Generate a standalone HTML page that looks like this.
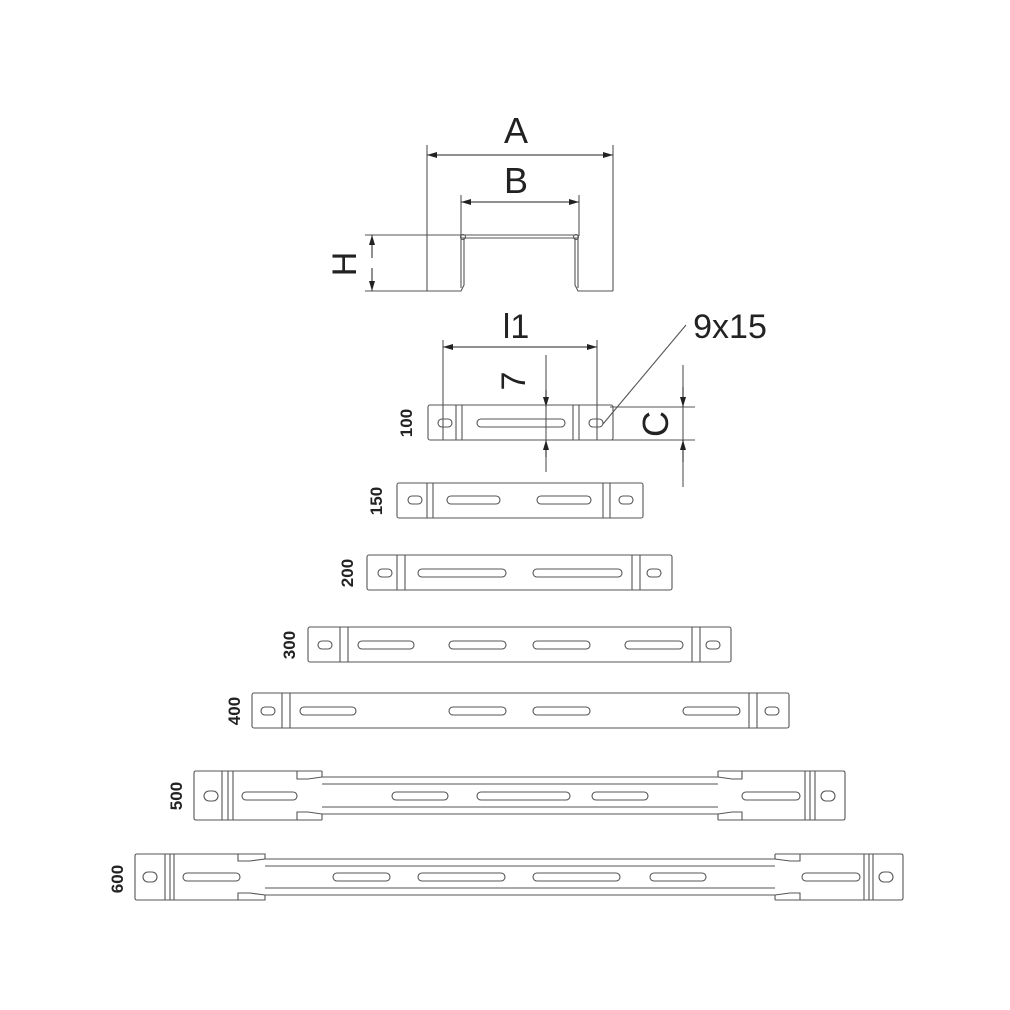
<!DOCTYPE html>
<html><head><meta charset="utf-8"><style>
html,body{margin:0;padding:0;background:#fff;}
svg{display:block;}
text{font-family:"Liberation Sans",sans-serif;fill:#222;}
</style></head><body>
<svg width="1010" height="1010" viewBox="0 0 1010 1010" xmlns="http://www.w3.org/2000/svg">
<defs>
<marker id="ar" viewBox="0 0 10 6" refX="10" refY="3" markerWidth="16" markerHeight="6" orient="auto" markerUnits="userSpaceOnUse"><path d="M0,0 L10,3 L0,6 z" fill="#222"/></marker>
</defs>
<g fill="none" stroke="#555" stroke-width="1.1">
<line x1="427" y1="145" x2="427" y2="291"/>
<line x1="613" y1="145" x2="613" y2="291"/>
<line x1="461" y1="195" x2="461" y2="236"/>
<line x1="579" y1="195" x2="579" y2="236"/>
<line x1="365" y1="235" x2="461" y2="235"/>
<line x1="365" y1="291" x2="427" y2="291"/>
<path d="M461,235 L578,235 M461,238 L578,238 M461,235 L461,288 M464,238 L464,285 L461,291 L427,291 M575,238 L575,285 L578,291 L613,291 M578,235 L578,288"/>
<circle cx="463" cy="237" r="2.5"/><circle cx="576" cy="237" r="2.5"/>
<line x1="443" y1="340" x2="443" y2="440"/>
<line x1="597" y1="340" x2="597" y2="440"/>
<line x1="546" y1="355" x2="546" y2="472"/>
<line x1="610" y1="407" x2="695" y2="407"/>
<line x1="610" y1="440" x2="695" y2="440"/>
<line x1="683" y1="365" x2="683" y2="487"/>
<line x1="686" y1="325" x2="603" y2="424"/>
</g>
<g stroke="#222" stroke-width="1" fill="none">
<line x1="450" y1="155" x2="427" y2="155" marker-end="url(#ar)"/>
<line x1="450" y1="155" x2="590" y2="155"/>
<line x1="590" y1="155" x2="613" y2="155" marker-end="url(#ar)"/>
<line x1="484" y1="202" x2="461" y2="202" marker-end="url(#ar)"/>
<line x1="484" y1="202" x2="556" y2="202"/>
<line x1="556" y1="202" x2="579" y2="202" marker-end="url(#ar)"/>
<line x1="372" y1="258" x2="372" y2="235" marker-end="url(#ar)"/>
<line x1="372" y1="268" x2="372" y2="291" marker-end="url(#ar)"/>
<line x1="466" y1="347" x2="443" y2="347" marker-end="url(#ar)"/>
<line x1="466" y1="347" x2="574" y2="347"/>
<line x1="574" y1="347" x2="597" y2="347" marker-end="url(#ar)"/>
<line x1="546" y1="390" x2="546" y2="407" marker-end="url(#ar)"/>
<line x1="546" y1="457" x2="546" y2="440" marker-end="url(#ar)"/>
<line x1="683" y1="387" x2="683" y2="407" marker-end="url(#ar)"/>
<line x1="683" y1="462" x2="683" y2="440" marker-end="url(#ar)"/>
</g>
<text x="516" y="143" font-size="36" text-anchor="middle">A</text>
<text x="516" y="193" font-size="36" text-anchor="middle">B</text>
<text x="0" y="0" font-size="34" text-anchor="middle" transform="translate(356,264) rotate(-90)">H</text>
<text x="516" y="338" font-size="34" text-anchor="middle">l1</text>
<text x="730" y="338" font-size="34" text-anchor="middle">9x15</text>
<text x="0" y="0" font-size="34" text-anchor="middle" transform="translate(525,381) rotate(-90)">7</text>
<text x="0" y="0" font-size="36" text-anchor="middle" transform="translate(668,424) rotate(-90)">C</text>
<g font-size="17" font-weight="bold" text-anchor="middle">
<text transform="translate(412,423) rotate(-90)">100</text>
<text transform="translate(382,501) rotate(-90)">150</text>
<text transform="translate(353,573) rotate(-90)">200</text>
<text transform="translate(295,645) rotate(-90)">300</text>
<text transform="translate(240,711) rotate(-90)">400</text>
<text transform="translate(182,796) rotate(-90)">500</text>
<text transform="translate(123,879) rotate(-90)">600</text>
</g>
<g fill="none" stroke="#555" stroke-width="1.1">
<rect x="428" y="405" width="185" height="35" rx="2"/>
<path d="M456,405V440M462,405V440M573,405V440M579,405V440"/>
<rect x="438" y="419" width="14" height="8" rx="4"/><rect x="589" y="419" width="14" height="8" rx="4"/>
<rect x="477" y="419" width="88" height="8" rx="4"/>
<rect x="397" y="483" width="246" height="35" rx="2"/>
<path d="M427,483V518M433,483V518M603,483V518M610,483V518"/>
<rect x="408" y="496" width="14" height="8" rx="4"/><rect x="619" y="496" width="14" height="8" rx="4"/>
<rect x="447" y="496" width="53" height="8" rx="4"/><rect x="537" y="496" width="54" height="8" rx="4"/>
<rect x="367" y="555" width="305" height="35" rx="2"/>
<path d="M397,555V590M405,555V590M632,555V590M640,555V590"/>
<rect x="378" y="569" width="14" height="8" rx="4"/><rect x="647" y="569" width="14" height="8" rx="4"/>
<rect x="418" y="569" width="88" height="8" rx="4"/><rect x="533" y="569" width="89" height="8" rx="4"/>
<rect x="308" y="627" width="423" height="35" rx="2"/>
<path d="M340,627V662M348,627V662M692,627V662M700,627V662"/>
<rect x="318" y="641" width="14" height="8" rx="4"/><rect x="706" y="641" width="14" height="8" rx="4"/>
<rect x="358" y="641" width="56" height="8" rx="4"/><rect x="449" y="641" width="57" height="8" rx="4"/><rect x="533" y="641" width="57" height="8" rx="4"/><rect x="625" y="641" width="58" height="8" rx="4"/>
<rect x="252" y="693" width="537" height="35" rx="2"/>
<path d="M282,693V728M290,693V728M749,693V728M757,693V728"/>
<rect x="261" y="707" width="14" height="8" rx="4"/><rect x="765" y="707" width="14" height="8" rx="4"/>
<rect x="300" y="707" width="56" height="8" rx="4"/><rect x="449" y="707" width="57" height="8" rx="4"/><rect x="533" y="707" width="57" height="8" rx="4"/><rect x="683" y="707" width="57" height="8" rx="4"/>
<!-- 500 -->
<path d="M297,771 L196,771 Q194,771 194,773 L194,818 Q194,820 196,820 L297,820 L297,812 L308,812 L322,814 L718,814 L732,812 L742,812 L742,820 L843,820 Q845,820 845,818 L845,773 Q845,771 843,771 L742,771 L742,779 L732,779 L718,777 L322,777 L308,779 L297,779 Z"/>
<path d="M322,771 L322,777 M718,771 L718,777 M322,814 L322,820 M718,814 L718,820 M297,771 L322,771 M718,771 L742,771 M297,820 L322,820 M718,820 L742,820"/>
<path d="M322,784 L718,784 M322,807 L718,807"/>
<path d="M222,771V820M228,771V820M233,771V820M805,771V820M810,771V820M815,771V820"/>
<rect x="204" y="791" width="14" height="10" rx="5"/><rect x="821" y="791" width="14" height="10" rx="5"/>
<rect x="242" y="792" width="55" height="8" rx="4"/><rect x="392" y="792" width="56" height="8" rx="4"/><rect x="477" y="792" width="93" height="8" rx="4"/><rect x="592" y="792" width="56" height="8" rx="4"/><rect x="742" y="792" width="58" height="8" rx="4"/>
<!-- 600 -->
<path d="M238,854 L137,854 Q135,854 135,856 L135,898 Q135,900 137,900 L238,900 L238,893 L250,893 L265,895 L775,895 L790,893 L800,893 L800,900 L901,900 Q903,900 903,898 L903,856 Q903,854 901,854 L800,854 L800,861 L790,861 L775,859 L265,859 L250,861 L238,861 Z"/>
<path d="M238,854 L265,854 L265,859 M775,854 L800,854 M775,854 L775,859 M238,900 L265,900 L265,895 M775,900 L800,900 M775,900 L775,895"/>
<path d="M265,866 L775,866 M265,888 L775,888"/>
<path d="M165,854V900M170,854V900M174,854V900M864,854V900M869,854V900M873,854V900"/>
<rect x="143" y="872" width="14" height="10" rx="5"/><rect x="879" y="872" width="14" height="10" rx="5"/>
<rect x="183" y="873" width="57" height="8" rx="4"/><rect x="333" y="873" width="57" height="8" rx="4"/><rect x="418" y="873" width="87" height="8" rx="4"/><rect x="533" y="873" width="87" height="8" rx="4"/><rect x="650" y="873" width="56" height="8" rx="4"/><rect x="802" y="873" width="58" height="8" rx="4"/>
</g>
</svg>
</body></html>
